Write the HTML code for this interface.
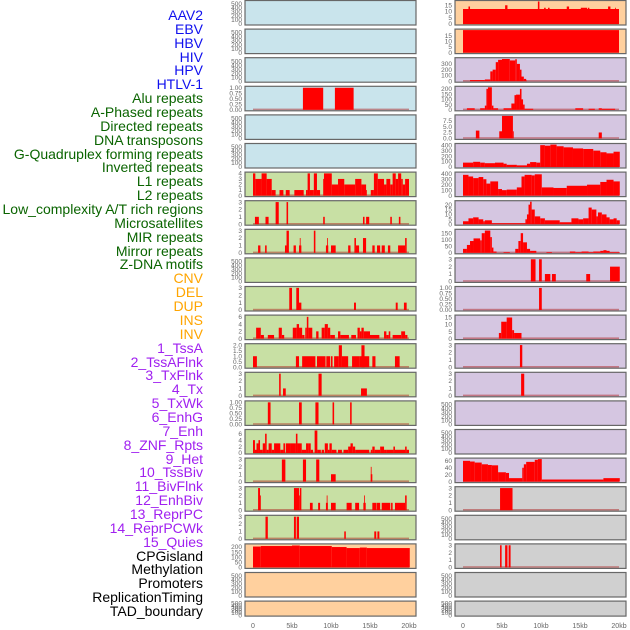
<!DOCTYPE html>
<html><head><meta charset="utf-8">
<style>
html,body{margin:0;padding:0;background:#fff;}
body{width:630px;height:630px;overflow:hidden;position:relative;font-family:"Liberation Sans",sans-serif;}
.lab{position:absolute;right:427px;font-size:14px;line-height:14px;white-space:nowrap;}
svg{position:absolute;left:0;top:0;}
</style></head>
<body>
<div id="labels"></div>
<svg id="chart" width="630" height="630"></svg>
<script>
const labelNames = ["AAV2","EBV","HBV","HIV","HPV","HTLV-1","Alu repeats","A-Phased repeats","Directed repeats","DNA transposons","G-Quadruplex forming repeats","Inverted repeats","L1 repeats","L2 repeats","Low_complexity A/T rich regions","Microsatellites","MIR repeats","Mirror repeats","Z-DNA motifs","CNV","DEL","DUP","INS","INV","1_TssA","2_TssAFlnk","3_TxFlnk","4_Tx","5_TxWk","6_EnhG","7_Enh","8_ZNF_Rpts","9_Het","10_TssBiv","11_BivFlnk","12_EnhBiv","13_ReprPC","14_ReprPCWk","15_Quies","CPGisland","Methylation","Promoters","ReplicationTiming","TAD_boundary"];
const labelGroups = [6,13,5,15,5];
const groupColors = ["#1010ee","#0a6400","#ffa500","#a020f0","#000000"];
const xTickLabels = ["0","5kb","10kb","15kb","20kb"];
const xTickValues = [0,5,10,15,20];

const L4 = [[6.4,9.0,1],[10.5,12.9,1]];
const L7 = [[0,0.3,4],[0.3,0.9,3],[0.9,1.1,3],[1.1,1.75,4],[1.75,2.4,3],[2.4,2.9,1],[3.4,3.9,1],[4.2,4.7,1],[5.3,6.5,1],[6.8,7.0,1],[7.0,7.3,4],[7.3,7.8,1],[7.8,8.2,4],[8.2,8.6,1],[9.0,9.1,3],[9.1,10.1,4],[10.1,10.9,2],[10.9,11.7,3],[11.7,13.1,2],[13.1,13.9,3],[13.9,14.5,2],[14.5,14.6,1],[15.1,15.5,1],[15.5,16.0,4],[16.0,16.8,3],[16.8,17.1,2],[17.1,17.6,3],[17.6,17.9,2],[17.9,18.3,4],[18.3,18.6,3],[18.6,19.0,4],[19.0,19.2,3],[19.2,19.5,2],[19.5,20,3]];
const L8 = [[0.25,0.75,1],[1.6,2.0,1],[2.9,3.3,3],[4.3,4.5,3],[9.0,9.2,1],[14.1,14.3,1],[14.5,14.9,1],[17.6,17.8,1],[18.7,18.9,1]];
const L9 = [[0.65,0.95,1],[1.55,1.75,1],[4.1,4.3,1],[4.3,4.6,3],[5.2,5.5,1],[5.9,6.2,1],[6.0,6.1,2],[7.8,8.0,3],[9.35,9.65,1],[9.5,9.6,2],[10.0,10.6,1],[12.2,12.5,1],[13.0,13.2,2],[13.2,13.6,1],[14.1,14.5,2],[15.3,15.6,1],[15.9,16.3,1],[16.5,16.9,1],[17.3,17.6,1],[18.6,19.5,1],[19.5,19.7,2]];
const L11 = [[4.65,5.0,3],[5.55,5.9,3],[5.9,6.2,1],[12.95,13.2,1],[18.3,18.55,1],[19.35,19.7,1]];
const L12 = [[0.4,1.0,3],[1.0,1.4,1],[1.9,2.7,1],[3.3,3.7,3],[3.7,4.0,1],[5.1,5.6,3],[5.6,5.9,4],[5.9,6.3,3],[6.3,6.6,1],[6.7,6.9,3],[6.9,7.1,6],[7.1,7.6,3],[8.1,8.4,2],[8.8,9.2,3],[9.2,9.6,4],[9.6,9.9,3],[9.9,10.5,1],[10.9,11.2,2],[11.2,12.3,1],[12.6,13.2,1],[13.4,13.7,3],[13.7,13.9,2],[13.9,14.2,3],[14.2,15.0,2],[15.0,16.2,1],[16.8,17.1,2],[17.1,17.4,1],[17.4,17.6,2],[17.9,19.0,1],[19.0,19.5,2],[19.5,19.8,1]];
const L13 = [[0,0.5,1],[5.5,5.9,1],[6.3,8.0,1],[8.2,9.3,1],[9.4,9.9,1],[10.0,10.2,1],[10.4,11.0,1],[11.0,11.4,2],[11.4,12.2,1],[12.7,13.7,1],[13.7,14.9,1],[13.9,14.3,2],[15.3,15.7,1],[18.2,18.8,1]];
const L14 = [[3.35,3.55,3],[3.85,4.2,1],[8.4,8.8,3],[13.85,14.6,1]];
const L15 = [[1.9,2.25,1],[5.9,6.25,1],[8.0,8.4,1],[10.2,10.4,1],[12.45,12.65,1]];
const L16 = [[0,0.25,4],[0.25,0.45,1],[0.45,0.7,3],[0.7,0.9,4],[0.9,1.25,1],[1.25,1.55,3],[1.55,1.75,6],[1.75,2.0,1],[2.0,2.4,3],[2.4,2.7,1],[2.7,3.5,3],[3.5,3.9,1],[3.9,4.1,3],[4.2,4.75,3],[4.75,5.5,3],[5.5,5.7,6],[5.7,6.25,3],[6.25,6.8,1],[6.8,7.1,3],[7.1,7.4,3],[7.4,7.7,1],[7.9,8.25,7],[8.25,8.7,1],[8.8,9.1,1],[9.2,9.6,3],[9.6,9.8,1],[9.8,10.1,3],[10.1,10.7,1],[10.9,11.4,1],[11.6,12.2,1],[12.2,12.5,2],[12.5,12.8,3],[12.8,13.1,2],[13.1,14.9,1],[15.1,15.3,1],[15.3,15.6,2],[15.6,16.3,1],[16.3,16.8,2],[16.8,17.1,1],[17.1,18.0,1],[18.0,18.2,2],[18.2,19.5,1],[19.5,19.7,2],[19.7,20,1]];
const L17 = [[3.7,4.15,3],[6.4,6.8,3],[8.1,8.5,3],[10.0,10.6,1],[15.1,15.3,1],[15.1,15.2,2]];
const L18 = [[0.65,0.9,3],[0.9,1.0,2],[5.25,5.9,3],[5.9,6.0,2],[6.0,6.2,3],[7.3,7.65,1],[8.35,8.6,1],[9.35,9.6,1],[9.45,9.55,2],[10.0,10.6,1],[12.0,12.65,1],[13.1,13.6,1],[14.15,14.45,1],[14.25,14.35,2],[15.3,15.8,1],[15.85,16.3,1],[16.5,17.6,1],[17.7,17.9,1],[18.2,19.5,1],[19.5,19.7,2]];
const L19 = [[1.6,1.9,3],[5.25,5.5,3],[5.6,5.9,3],[11.7,11.9,1],[15.55,15.8,1],[15.95,16.2,1]];
const L20 = [[0,1.0,205],[1.0,5.0,210],[5.0,6.0,215],[6.0,10.1,210],[10.1,12.0,200],[12.0,13.7,190],[13.7,14.6,195],[14.6,20.1,190]];

const R1 = [[0,20,12],[0.7,0.9,14],[5.4,5.7,15],[9.6,9.8,18],[10.4,10.6,13],[10.9,11.1,13],[13.3,13.6,14],[15.1,15.9,13],[16.0,16.2,13],[18.6,18.9,14],[19.5,19.6,13]];
const R2 = [[0,20,20]];
const R3 = [[0.9,2.8,20],[2.8,3.5,30],[3.5,3.8,170],[3.8,4.2,200],[4.2,4.5,330],[4.5,5.0,370],[5.0,6.0,385],[6.0,6.7,360],[6.7,6.9,380],[6.9,7.3,300],[7.3,7.5,200],[7.5,7.8,80],[7.8,8.1,40],[8.1,8.2,10]];
const R4 = [[0.5,1.5,15],[2.2,2.8,15],[2.8,3.0,40],[3.0,3.2,200],[3.2,3.7,215],[3.7,3.9,40],[3.9,4.5,15],[5.2,6.2,15],[6.2,6.6,60],[6.6,6.8,140],[6.8,7.3,145],[7.3,7.5,200],[7.5,7.7,100],[7.7,7.9,50],[7.9,9.0,10],[14.4,15.4,15],[16.1,16.9,10],[17.4,17.8,15],[17.8,19.5,10]];
const R5 = [[1.65,2.1,3.3],[4.65,5.0,3],[5.0,6.4,9.5],[6.4,6.5,3],[17.4,17.8,2.5]];
const R6 = [[0,1.3,80],[1.3,2.2,95],[2.2,2.8,80],[2.8,4.1,70],[4.1,5.2,80],[5.2,5.6,60],[5.6,6.9,40],[6.9,8.2,30],[8.2,8.6,60],[8.6,9.4,90],[9.4,9.9,80],[9.9,10.5,400],[10.5,11.2,390],[11.2,12.0,410],[12.0,12.9,380],[12.9,14.1,360],[14.1,15.4,340],[15.4,16.7,330],[16.7,17.6,300],[17.6,18.4,270],[18.4,19.3,250],[19.3,20.1,280]];
const R7 = [[0,0.7,380],[0.7,1.3,350],[1.3,2.0,320],[2.0,2.6,340],[2.6,3.0,300],[3.0,3.5,220],[3.5,4.5,260],[4.5,5.0,120],[5.0,5.6,100],[5.6,6.9,110],[6.9,7.5,150],[7.5,7.9,350],[7.9,8.8,380],[8.8,9.2,370],[9.2,10.1,390],[10.1,11.6,150],[11.6,13.3,140],[13.3,15.9,180],[15.9,17.6,200],[17.6,18.4,250],[18.4,19.3,290],[19.3,20.1,260]];
const R8 = [[0,0.7,3],[0.7,1.3,6],[1.3,2.0,7],[2.0,2.6,5],[2.6,2.8,3],[2.8,3.7,4],[3.7,8.0,1],[8.0,8.2,5],[8.2,8.4,10],[8.4,8.6,20],[8.6,8.8,23],[8.8,9.2,15],[9.2,9.9,8],[9.9,10.5,6],[10.5,12.4,4],[12.4,13.9,2],[13.9,14.8,6],[14.8,15.4,5],[15.4,16.1,6],[16.1,16.5,17],[16.5,17.1,15],[17.1,17.3,8],[17.3,17.8,12],[17.8,18.4,10],[18.4,18.8,7],[18.8,19.3,5],[19.3,19.7,6],[19.7,20.1,4]];
const R9 = [[0,0.5,30],[0.5,0.9,60],[0.9,1.35,90],[1.35,2.2,110],[2.2,2.4,95],[2.4,2.8,150],[2.8,3.5,170],[3.5,3.7,120],[3.7,3.9,40],[3.9,4.3,10],[5.2,6.0,5],[6.7,7.1,30],[7.1,7.4,90],[7.4,7.7,150],[7.7,8.2,80],[8.2,8.6,30],[8.6,9.4,15],[10.7,11.4,5],[13.7,14.4,10],[14.4,15.2,5],[15.2,16.1,10],[16.1,16.7,5],[16.7,17.6,10],[17.6,18.0,15],[18.0,18.4,20],[18.4,18.8,15],[18.8,20.1,5]];
const R10 = [[8.7,9.3,3],[9.75,10.1,3],[10.5,11.2,1],[11.4,11.9,1],[15.8,16.3,1],[18.85,20.1,2]];
const R11 = [[9.75,10.1,1]];
const R12 = [[4.6,4.9,4],[4.9,5.6,12],[5.6,6.3,15],[6.3,6.55,6],[6.55,7.5,4]];
const R13 = [[7.3,7.6,3]];
const R14 = [[7.45,7.85,3]];
const R17 = [[0,0.9,60],[0.9,1.5,58],[1.5,2.4,55],[2.4,3.2,50],[3.2,3.7,48],[3.7,4.5,47],[4.5,5.5,27],[5.5,5.9,25],[5.9,7.6,10],[7.6,7.8,40],[7.8,8.1,50],[8.1,9.2,57],[9.2,9.6,63],[9.6,10.1,65],[10.1,18.0,6],[18.0,20.1,10]];
const R18 = [[4.75,6.35,3]];
const R20 = [[4.75,4.95,3],[5.4,5.7,3],[5.85,6.1,3]];

const tEmpty=[0,100,200,300,400,500], t1=[0,0.25,0.5,0.75,1], t1b=["0.00","0.25","0.50","0.75","1.00"], t3=[0,1,2,3], t4=[0,1,2,3,4], t6=[0,2,4,6];
const leftPanels = [
 {bg:"#c9e4ec",d:null,max:560,t:tEmpty},{bg:"#c9e4ec",d:null,max:560,t:tEmpty},{bg:"#c9e4ec",d:null,max:560,t:tEmpty},
 {bg:"#c9e4ec",d:L4,max:1.02,t:t1,tl:t1b},{bg:"#c9e4ec",d:null,max:560,t:tEmpty},{bg:"#c9e4ec",d:null,max:560,t:tEmpty},
 {bg:"#c8e0a4",d:L7,max:4.05,t:t4},{bg:"#c8e0a4",d:L8,max:3.05,t:t3},{bg:"#c8e0a4",d:L9,max:3.05,t:t3},
 {bg:"#c8e0a4",d:null,max:560,t:tEmpty},{bg:"#c8e0a4",d:L11,max:3.05,t:t3},{bg:"#c8e0a4",d:L12,max:6.2,t:t6},
 {bg:"#c8e0a4",d:L13,max:2.05,t:[0,0.5,1,1.5,2],tl:["0.0","0.5","1.0","1.5","2.0"]},{bg:"#c8e0a4",d:L14,max:3.05,t:t3},
 {bg:"#c8e0a4",d:L15,max:1.02,t:t1,tl:t1b},{bg:"#c8e0a4",d:L16,max:7.0,t:t6},{bg:"#c8e0a4",d:L17,max:3.05,t:t3},
 {bg:"#c8e0a4",d:L18,max:3.05,t:t3},{bg:"#c8e0a4",d:L19,max:3.05,t:t3},
 {bg:"#ffd09e",d:L20,max:221,t:[0,50,100,150,200]},{bg:"#ffd09e",d:null,max:560,t:tEmpty},{bg:"#ffd09e",d:null,max:560,t:tEmpty}];
const rightPanels = [
 {bg:"#ffd09e",d:R1,max:18,t:[0,5,10,15]},{bg:"#ffd09e",d:R2,max:20,t:[0,5,10,15]},
 {bg:"#d5c6e1",d:R3,max:390,t:[0,100,200,300]},{bg:"#d5c6e1",d:R4,max:215,t:[0,50,100,150,200]},
 {bg:"#d5c6e1",d:R5,max:9.5,t:[0,2.5,5,7.5],tl:["0.0","2.5","5.0","7.5"]},{bg:"#d5c6e1",d:R6,max:412,t:[0,100,200,300,400]},
 {bg:"#d5c6e1",d:R7,max:412,t:[0,100,200,300,400]},{bg:"#d5c6e1",d:R8,max:23,t:[0,5,10,15,20]},
 {bg:"#d5c6e1",d:R9,max:172,t:[0,50,100,150]},{bg:"#d5c6e1",d:R10,max:3.05,t:t3},
 {bg:"#d5c6e1",d:R11,max:1.02,t:t1,tl:t1b},{bg:"#d5c6e1",d:R12,max:16,t:[0,5,10,15]},
 {bg:"#d5c6e1",d:R13,max:3.05,t:t3},{bg:"#d5c6e1",d:R14,max:3.05,t:t3},
 {bg:"#d5c6e1",d:null,max:560,t:tEmpty},{bg:"#d5c6e1",d:null,max:560,t:tEmpty},
 {bg:"#d5c6e1",d:R17,max:65,t:[0,20,40,60]},{bg:"#d0d0d0",d:R18,max:3.05,t:t3},
 {bg:"#d0d0d0",d:null,max:560,t:tEmpty},{bg:"#d0d0d0",d:R20,max:3.05,t:t3},
 {bg:"#d0d0d0",d:null,max:560,t:tEmpty},{bg:"#d0d0d0",d:null,max:560,t:tEmpty}];

const labDiv = document.getElementById('labels');
let gi=0, gc=0;
labelNames.forEach((n,i)=>{
  while(gc>=labelGroups[gi]){gi++;gc=0;}
  gc++;
  const d=document.createElement('div');
  d.className='lab';
  d.textContent=n;
  d.style.top=(8+i*13.86)+'px';
  d.style.color=groupColors[gi];
  
  
  labDiv.appendChild(d);
});

const NS="http://www.w3.org/2000/svg";
const svg=document.getElementById('chart');
function mk(tag,attrs,parent){const e=document.createElementNS(NS,tag);for(const k in attrs)e.setAttribute(k,attrs[k]);(parent||svg).appendChild(e);return e;}
const pitch=28.6;
function drawColumn(panels,px0,px1,x0,kbScale,colName){
  const xs=kb=>x0+kb*kbScale;
  panels.forEach((p,i)=>{
    const top=i*pitch+0.5, h=(i===21?15:24.5), bot=top+h;
    const g=mk('g',{});
    
    
    mk('rect',{x:px0,y:top,width:px1-px0,height:h,fill:p.bg,stroke:"none"},g);
    const yb=bot-1, yt=top+1;
    const ys=v=>yb-(Math.min(v,p.max)/p.max)*(yb-yt);
    if(p.d){
      mk('rect',{x:xs(0),y:yb-1.2,width:xs(20)-xs(0),height:1.6,fill:"rgba(170,20,20,0.45)"},g);
      p.d.forEach(s=>{
        const r=mk('rect',{x:xs(s[0]),y:ys(s[2]),width:Math.max(0.8,xs(s[1])-xs(s[0])),height:yb-ys(s[2]),fill:"#ff0000"},g);
        
        
      });
    }
    mk('rect',{x:px0,y:top,width:px1-px0,height:h,fill:"none",stroke:"#676767","stroke-width":1.2},g);
    p.t.forEach((tv,k)=>{
      const t=mk('text',{x:px0-3,y:ys(tv)+2.2,"text-anchor":"end","font-size":"6.5","fill":"#666","font-family":"Liberation Sans, sans-serif"},g);
      t.textContent=p.tl?p.tl[k]:String(tv);
      
      
    });
  });
  xTickValues.forEach((v,k)=>{
    const t=mk('text',{x:xs(v),y:628,"text-anchor":"middle","font-size":"7","fill":"#666","font-family":"Liberation Sans, sans-serif"});
    t.textContent=xTickLabels[k];
    
    
  });
}
drawColumn(leftPanels,245,416,253,7.8,'left');
drawColumn(rightPanels,455,626,463,7.8,'right');
</script>
</body></html>
